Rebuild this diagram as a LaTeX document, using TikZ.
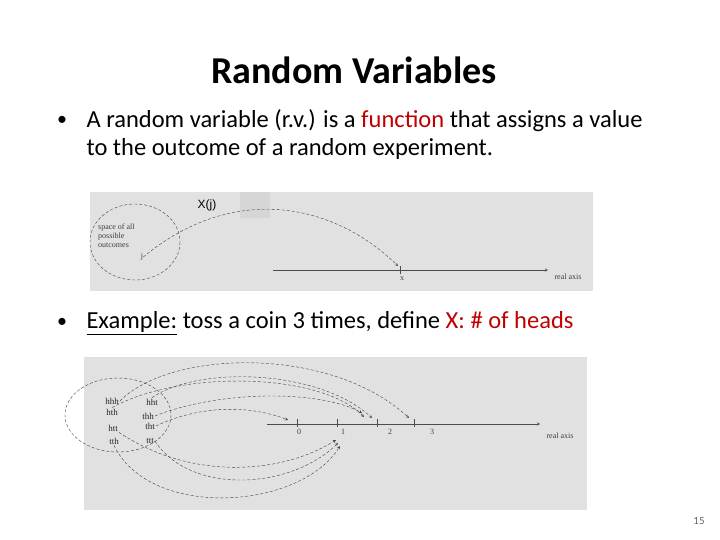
\documentclass[tikz,border=0pt]{standalone}
\usepackage{fontspec}
\setmainfont{Carlito}
\newfontfamily\axfont{Liberation Serif}
\newfontfamily\lblfont{Liberation Sans}
\usetikzlibrary{arrows, positioning, calc}
\definecolor{panelgray}{HTML}{E1E1E1}
\definecolor{slidered}{HTML}{C00000}
\tikzstyle{panel} = [fill=panelgray, draw=none]
\tikzstyle{small} = [font=\axfont\fontsize{8}{9}\selectfont, text=black!75, inner sep=0pt]
\tikzstyle{outcome} = [font=\axfont\fontsize{9}{10}\selectfont, text=black!85, inner sep=1pt]
\tikzstyle{maparrow} = [densely dashed, black!75, thin, ->, >=stealth]
\tikzstyle{axisline} = [black!70, thin, ->, >=stealth]
\begin{document}
\begin{tikzpicture}[x=1pt, y=-1pt]
    \useasboundingbox (0,0) rectangle (720,540);
    % titel en tekst
    \node (title) at (354,70) {\fontsize{38}{44}\bfseries\selectfont Random Variables};
    \node (b1) at (62,121) {\fontsize{20}{24}\selectfont\textbullet};
    \node (t1) [anchor=west] at (83,121) {\fontsize{24.5}{29}\selectfont A random variable (r.v.) is a \textcolor{slidered}{function} that assigns a value};
    \node (t2) [anchor=west] at (83,149) {\fontsize{24.5}{29}\selectfont to the outcome of a random experiment.};
    \node (b2) at (62,323) {\fontsize{20}{24}\selectfont\textbullet};
    \node (t3) [anchor=west] at (83,323) {\fontsize{24.5}{29}\selectfont \underline{Example:} toss a coin 3 times, define \textcolor{slidered}{X: \# of heads}};
    \node (page) at (699,521) {\fontsize{11}{12}\selectfont\color{black!60}15};

    % eerste figuur
    \fill[panel] (90,192) rectangle (593,291);
    \fill[black!5!panelgray] (240,192) rectangle (270,218);
    \node (Xj) at (207,205) {\lblfont\fontsize{12}{14}\selectfont X(j)};
    \draw[densely dashed, black!75] (135,242) ellipse [x radius=45, y radius=38];
    \node (space) [small, align=left, anchor=north west] at (98,224) {space of all\\possible\\outcomes};
    \node (j) [small] at (142,257) {j};
    \coordinate (axAs) at (273,270);
    \coordinate (axAe) at (548,270);
    \draw[axisline] (axAs) -- (axAe);
    \draw[black!70] (400,266) -- (400,274);
    \coordinate (xpt) at (398,266);
    \node (x) [small] at (402,279) {x};
    \node (realA) [small] at (568,277) {real axis};
    \draw[maparrow] (j.east) .. controls (230,185) and (330,200) .. (xpt);

    % tweede figuur
    \fill[panel] (84,357) rectangle (587,510);
    \draw[densely dashed, black!75] (118,415) ellipse [x radius=53, y radius=37];
    \node (hhh) [outcome] at (112,401) {hhh};
    \node (hth) [outcome] at (112,412) {hth};
    \node (hht) [outcome] at (152,402) {hht};
    \node (thh) [outcome] at (148,416) {thh};
    \node (htt) [outcome] at (113,428) {htt};
    \node (tht) [outcome] at (150,426) {tht};
    \node (tth) [outcome] at (114,441) {tth};
    \node (ttt) [outcome] at (150,441) {ttt};
    \coordinate (axBs) at (267,424);
    \coordinate (axBe) at (540,424);
    \draw[axisline] (axBs) -- (axBe);
    \foreach \xv/\lab/\lx in {297/0/299, 337/1/343, 377/2/390, 414/3/432} {
        \draw[black!70] (\xv,419) -- (\xv,427);
        \node[small] at (\lx,432) {\lab};
    }
    \node (realB) [small] at (560,436) {real axis};
    \coordinate (v3) at (409,418);
    \coordinate (v2a) at (372,418);
    \coordinate (v2b) at (364,417);
    \coordinate (v2c) at (362,413);
    \coordinate (v0) at (288,420);
    \coordinate (v1a) at (336,440);
    \coordinate (v1b) at (338,443);
    \coordinate (v1c) at (340,446);
    \draw[maparrow] (hhh.east) .. controls (170,350) and (330,345) .. (v3);
    \draw[maparrow] (hht.north) .. controls (200,365) and (320,370) .. (v2a);
    \draw[maparrow] (hth.north) .. controls (180,370) and (320,372) .. (v2b);
    \draw[maparrow] (thh.east) .. controls (220,390) and (320,390) .. (v2c);
    \draw[maparrow] (tht.east) .. controls (200,405) and (250,405) .. (v0);
    \draw[maparrow] (htt.south east) .. controls (190,480) and (280,475) .. (v1a);
    \draw[maparrow] (ttt.east) .. controls (190,495) and (290,490) .. (v1b);
    \draw[maparrow] (tth.south) .. controls (150,520) and (300,510) .. (v1c);
\end{tikzpicture}
\end{document}
